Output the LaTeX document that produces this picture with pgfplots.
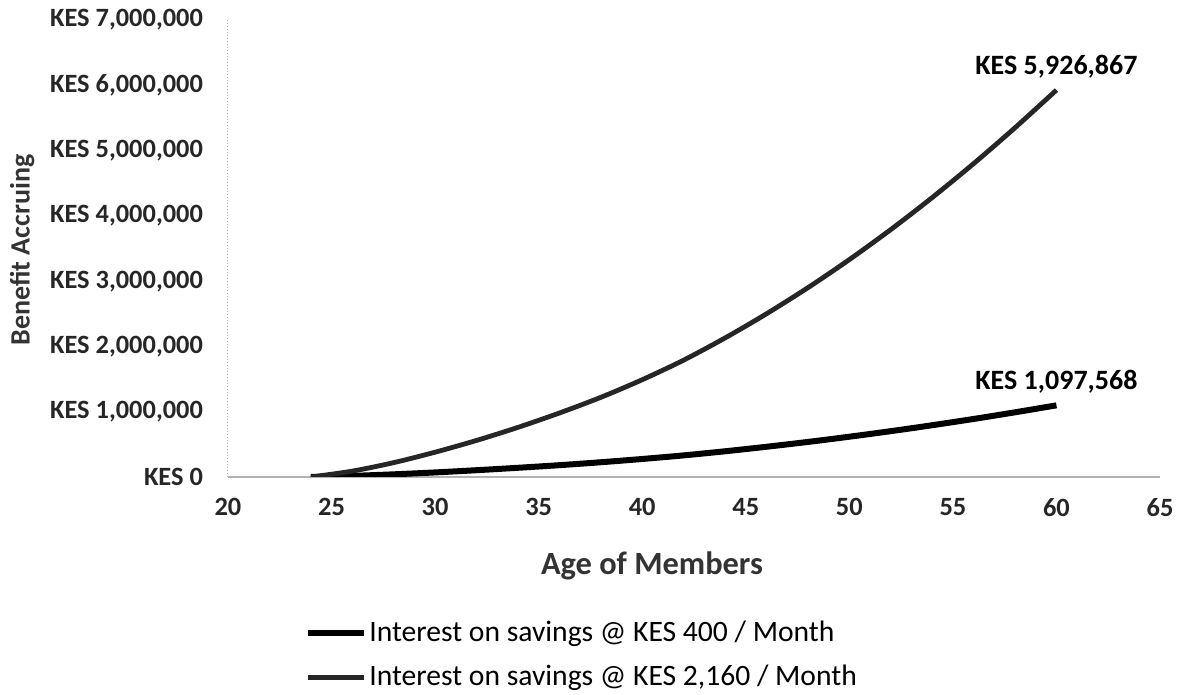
\documentclass[border=0pt]{standalone}
\usepackage{pgfplots}
\pgfplotsset{compat=1.18}
\usepackage{fontspec}
\setmainfont{Carlito}

% Accumulated benefit by age (KES)
\pgfplotstableread{
age  low      high
24   0        0
26   17000    90000
28   41000    220000
30   70000    380000
32   104000   560000
34   141000   760000
36   181000   980000
38   226000   1220000
40   276000   1490000
42   331000   1790000
44   394000   2130000
46   463000   2500000
48   537000   2900000
50   617000   3330000
52   702000   3790000
54   793000   4280000
56   889000   4800000
58   991000   5350000
60   1097568  5926867
}\benefit

\begin{document}
\begin{tikzpicture}
\useasboundingbox (-114pt,-109pt) rectangle (478pt,238.5pt);
\begin{axis}[
  scale only axis,
  width=466pt, height=228.5pt,
  xmin=20, xmax=65, ymin=0, ymax=7000000,
  scaled y ticks=false,
  axis x line*=bottom, axis y line*=left,
  x axis line style={gray!60, line width=0.6pt},
  y axis line style={gray!60, densely dotted, line width=0.5pt},
  major tick length=0pt,
  xtick={20,25,...,65},
  ytick={0,1000000,...,7000000},
  yticklabels={KES 0,{KES 1,000,000},{KES 2,000,000},{KES 3,000,000},{KES 4,000,000},{KES 5,000,000},{KES 6,000,000},{KES 7,000,000}},
  /pgf/number format/assume math mode=true,
  ticklabel style={font=\fontsize{13.2}{15}\selectfont\bfseries, text=black!85},
  yticklabel style={xshift=-9pt},
  xticklabel style={yshift=-7pt},
  xlabel={Age of Members},
  xlabel style={at={(axis description cs:0.455,0)}, yshift=-44.5pt, anchor=center, font=\fontsize{16.2}{19}\selectfont\bfseries, text=black!80},
  ylabel={Benefit Accruing},
  ylabel style={at={(axis description cs:-0.221,0.497)}, anchor=center, font=\fontsize{14}{16}\selectfont\bfseries, text=black!80},
  legend cell align=left,
  legend image code/.code={\draw[#1] (0pt,0pt) -- (28pt,0pt);},
  legend style={draw=none, fill=none, at={(axis description cs:0.0826,-0.305)}, anchor=north west,
    font=\fontsize{14.8}{17}\selectfont, row sep=6.5pt, inner sep=0pt,
    nodes={inner xsep=1pt}},
]
\addplot[black, line width=3pt, smooth] table[x=age, y=low] {\benefit};
\addlegendentry{Interest on savings @ KES 400 / Month}
\addplot[black!85, line width=2.4pt, smooth] table[x=age, y=high] {\benefit};
\addlegendentry{Interest on savings @ KES 2,160 / Month}
\node[anchor=south, yshift=2.5pt, font=\fontsize{14}{16}\selectfont\bfseries] at (axis cs:60,5926867) {KES 5,926,867};
\node[anchor=south, yshift=2.5pt, font=\fontsize{14}{16}\selectfont\bfseries] at (axis cs:60,1097568) {KES 1,097,568};
\end{axis}
\end{tikzpicture}
\end{document}
